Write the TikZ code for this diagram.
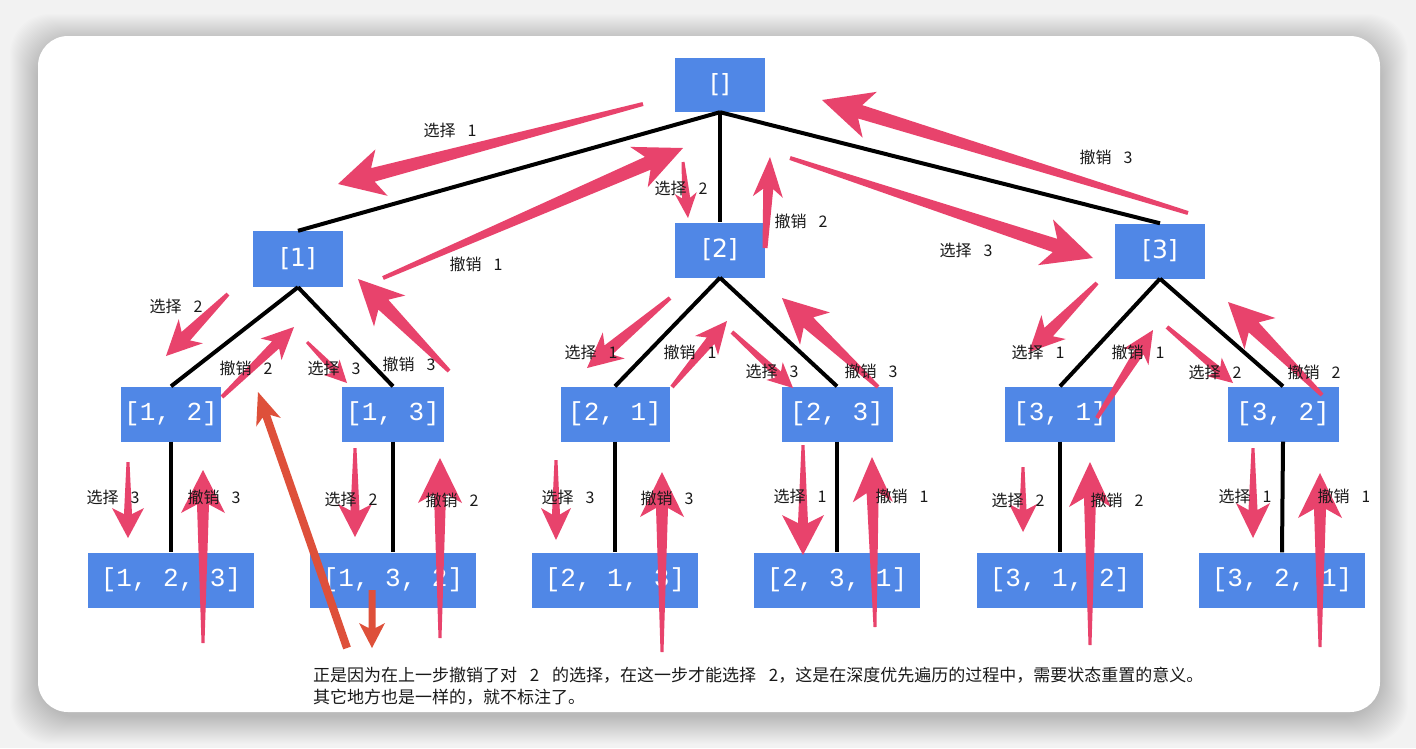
\documentclass[tikz,border=0pt]{standalone}
\usepackage{fontspec}
\usetikzlibrary{calc}
\newfontfamily\cjk{Noto Sans CJK SC}
\newfontfamily\monof{Liberation Mono}
\newfontfamily\sansf{DejaVu Sans}
\definecolor{nodeblue}{RGB}{80,135,230}
\definecolor{pinkc}{RGB}{232,67,108}
\definecolor{redc}{RGB}{222,80,58}
\definecolor{bggray}{RGB}{242,242,242}
\definecolor{labc}{RGB}{25,25,25}
\newcommand\selx[1]{选择\hspace{0.75em}#1}
\newcommand\undx[1]{撤销\hspace{0.75em}#1}
% fat tapered arrow: [style]{name}{tail}{tip}{tail half}{neck half}{head half}{head length}
\newcommand\parrow[8][pinkarr]{%
  \coordinate (#2t) at (#3);
  \coordinate (#2p) at (#4);
  \coordinate (#2n) at ($(#2p)!{0.8*#8*1pt}!(#2t)$);
  \coordinate (#2b) at ($(#2p)!{#8*1pt}!(#2t)$);
  \fill[#1] ($(#2t)!{#5*1pt}!90:(#2p)$) -- ($(#2n)!{#6*1pt}!90:(#2p)$)
    -- ($(#2b)!{#7*1pt}!90:(#2p)$) -- (#2p) -- ($(#2b)!{#7*1pt}!-90:(#2p)$)
    -- ($(#2n)!{#6*1pt}!-90:(#2p)$) -- ($(#2t)!{#5*1pt}!-90:(#2p)$) -- cycle;}
\begin{document}
\begin{tikzpicture}[x=1pt,y=-1pt,
  box/.style={fill=nodeblue,text=white,inner sep=0pt,minimum height=55,font=\monof\fontsize{26}{28}\selectfont},
  sbox/.style={box,minimum width=90,font=\sansf\fontsize{25}{28}\selectfont},
  leaf/.style={box,minimum width=166},
  edge/.style={line width=4pt,black},
  lab/.style={inner sep=0pt,text=labc,font=\cjk\fontsize{16}{19}\selectfont},
  note/.style={inner sep=0pt,anchor=west,text=labc,font=\cjk\fontsize{17}{20}\selectfont},
  pinkarr/.style={fill=pinkc},
  redarr/.style={fill=redc}]
\useasboundingbox (0,0) rectangle (1416,748);
\fill[bggray] (0,0) rectangle (1416,748);
\foreach \i in {1,...,28}
  \fill[black,opacity=0.0085,rounded corners=40pt] (38-\i,36-\i+6) rectangle (1380+\i,712+\i+4);
\fill[white,rounded corners=30pt] (38,36) rectangle (1380,712);

\begin{scope}
\clip (38,36) rectangle (1368,712);
% nodes
\node[sbox,minimum height=54] (r) at (720,85) {[]};
\node[sbox,minimum height=56] (n1) at (298,259) {[1]};
\node[sbox] (n2) at (720,250) {[2]};
\node[sbox] (n3) at (1160,251) {[3]};
\node[box,minimum width=100] (n12) at (171,414) {[1, 2]};
\node[box,minimum width=102] (n13) at (393,414) {[1, 3]};
\node[box,minimum width=109] (n21) at (615,414) {[2, 1]};
\node[box,minimum width=111] (n23) at (837,414) {[2, 3]};
\node[box,minimum width=110] (n31) at (1060,414) {[3, 1]};
\node[box,minimum width=111] (n32) at (1283,414) {[3, 2]};
\node[leaf] (n123) at (171,580) {[1, 2, 3]};
\node[leaf] (n132) at (393,580) {[1, 3, 2]};
\node[leaf] (n213) at (615,580) {[2, 1, 3]};
\node[leaf] (n231) at (837,580) {[2, 3, 1]};
\node[leaf] (n312) at (1060,580) {[3, 1, 2]};
\node[leaf] (n321) at (1282,580) {[3, 2, 1]};
% tree edges
\draw[edge] (r.south) -- (n1.north);
\draw[edge] (r.south) -- (n2.north);
\draw[edge] (r.south) -- (n3.north);
\draw[edge] (n1.south) -- (n12.north);
\draw[edge] (n1.south) -- (n13.north);
\draw[edge] (n2.south) -- (n21.north);
\draw[edge] (n2.south) -- (n23.north);
\draw[edge] (n3.south) -- (n31.north);
\draw[edge] (n3.south) -- (n32.north);
\draw[edge] (n12.south) -- (n123.north);
\draw[edge] (n13.south) -- (n132.north);
\draw[edge] (n21.south) -- (n213.north);
\draw[edge] (n23.south) -- (n231.north);
\draw[edge] (n31.south) -- (n312.north);
\draw[edge] (n32.south) -- (n321.north);
% pink arrows, level 0-1
\parrow{a1}{643,104}{338,184}{2}{7}{24}{45}
\parrow{a2}{383,278}{683,148}{2}{7}{22}{48}
\parrow{a3}{683,162}{688,218}{1.5}{4}{11}{25}
\parrow{a4}{765,248}{770,157}{2.5}{5}{15}{40}
\parrow{a5}{790,158}{1093,258}{2}{7}{24}{50}
\parrow{a6}{1188,213}{822,100}{2}{7}{24}{50}
% level 1-2
\parrow{a7}{228,294}{166,356}{2}{6}{17}{35}
\parrow{a8}{222,397}{294,327}{2}{5}{15}{32}
\parrow{a9}{307,342}{347,383}{1.5}{3.5}{11}{22}
\parrow{a10}{449,371}{358,279}{2}{7}{22}{45}
\parrow{a11}{670,298}{587,368}{2}{6}{17}{35}
\parrow{a12}{672,387}{727,321}{2}{5}{15}{32}
\parrow{a13}{732,332}{793,388}{2}{4}{12}{25}
\parrow{a14}{878,387}{782,298}{2}{7}{22}{45}
\parrow{a15}{1097,283}{1029,352}{2}{6}{17}{35}
\parrow{a16}{1097,418}{1153,330}{2}{5}{15}{32}
\parrow{a17}{1167,327}{1233,383}{2}{4}{12}{25}
\parrow{a18}{1322,395}{1228,302}{2}{7}{22}{45}
% level 2-3
\parrow{a19}{128,462}{128,538}{1.5}{4}{16}{30}
\parrow{a20}{203,643}{203,470}{1.5}{6}{22}{43}
\parrow{a21}{355,448}{355,537}{1.5}{4.5}{17}{33}
\parrow{a22}{440,638}{440,458}{1.5}{6}{22}{45}
\parrow{a23}{556,460}{556,540}{1.5}{4}{15}{32}
\parrow{a24}{662,652}{662,472}{1.5}{6}{22}{45}
\parrow{a25}{803,445}{803,555}{1.5}{5}{21}{40}
\parrow{a26}{875,627}{872,457}{1.5}{6}{20}{45}
\parrow{a27}{1023,467}{1023,532}{1.5}{3.5}{14}{28}
\parrow{a28}{1090,645}{1090,462}{1.5}{6}{21}{45}
\parrow{a29}{1253,448}{1253,538}{1.5}{4.5}{17}{35}
\parrow{a30}{1320,647}{1320,473}{1.5}{6}{22}{45}
% red annotation arrows
\parrow[redarr]{b1}{347,648}{258,392}{4}{4}{13}{32}
\parrow[redarr]{b2}{372,590}{372,648}{3.5}{3.5}{13}{25}
% labels
\node[lab] (t1) at (450,130) {\selx{1}};
\node[lab] (t2) at (681,188) {\selx{2}};
\node[lab] (t3) at (801,221) {\undx{2}};
\node[lab] (t4) at (476,264) {\undx{1}};
\node[lab] (t5) at (1106,157) {\undx{3}};
\node[lab] (t6) at (966,250) {\selx{3}};
\node[lab] (t7) at (176,306) {\selx{2}};
\node[lab] (t8) at (246,368) {\undx{2}};
\node[lab] (t9) at (334,368) {\selx{3}};
\node[lab] (t10) at (409,364) {\undx{3}};
\node[lab] (t11) at (591,352) {\selx{1}};
\node[lab] (t12) at (690,352) {\undx{1}};
\node[lab] (t13) at (772,371) {\selx{3}};
\node[lab] (t14) at (871,371) {\undx{3}};
\node[lab] (t15) at (1038,352) {\selx{1}};
\node[lab] (t16) at (1138,352) {\undx{1}};
\node[lab] (t17) at (1215,372) {\selx{2}};
\node[lab] (t18) at (1314,372) {\undx{2}};
\node[lab] (t19) at (113,497) {\selx{3}};
\node[lab] (t20) at (214,497) {\undx{3}};
\node[lab] (t21) at (351,499) {\selx{2}};
\node[lab] (t22) at (452,500) {\undx{2}};
\node[lab] (t23) at (568,497) {\selx{3}};
\node[lab] (t24) at (667,498) {\undx{3}};
\node[lab] (t25) at (800,496) {\selx{1}};
\node[lab] (t26) at (902,496) {\undx{1}};
\node[lab] (t27) at (1018,500) {\selx{2}};
\node[lab] (t28) at (1117,500) {\undx{2}};
\node[lab] (t29) at (1245,496) {\selx{1}};
\node[lab] (t30) at (1344,496) {\undx{1}};
% note
\node[note] (m1) at (313,675) {正是因为在上一步撤销了对\hspace{0.75em}2\hspace{0.75em}的选择，在这一步才能选择\hspace{0.75em}2，这是在深度优先遍历的过程中，需要状态重置的意义。};
\node[note] (m2) at (313,697) {其它地方也是一样的，就不标注了。};
\end{scope}
\end{tikzpicture}
\end{document}
